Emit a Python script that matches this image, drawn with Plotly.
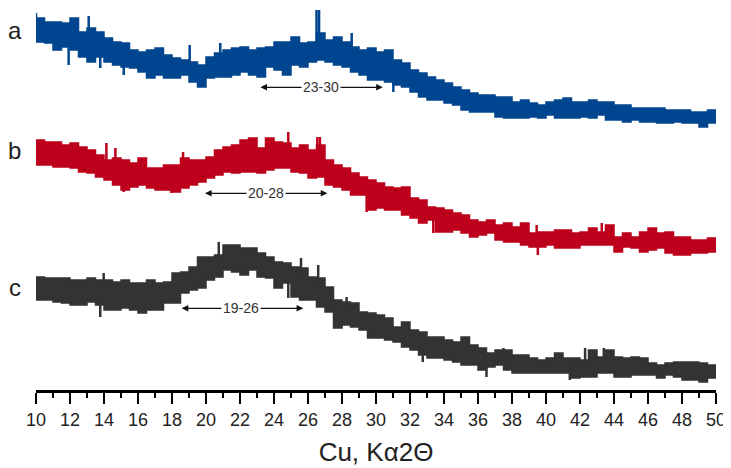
import plotly.graph_objects as go

# 2-theta grid (degrees), 0.5 step from 10 to 50
two_theta = [10 + 0.5 * i for i in range(81)]

# Sample a (blue): upper and lower envelope of the noisy trace (arb. intensity units)
a_upper = [372, 368, 368, 367, 372, 358, 362, 358, 352, 348,
           347, 340, 338, 340, 342, 335, 332, 330, 328, 325,
           333, 337, 340, 342, 343, 340, 342, 343, 348, 348,
           353, 347, 348, 357, 350, 353, 348, 343, 340, 342,
           338, 340, 330, 327, 320, 317, 313, 310, 307, 303,
           300, 297, 295, 295, 293, 293, 288, 290, 287, 285,
           288, 290, 292, 288, 288, 290, 288, 288, 285, 285,
           282, 282, 282, 282, 280, 280, 280, 278, 278, 280,
           277]
a_lower = [348, 347, 340, 343, 340, 333, 328, 333, 328, 325,
           323, 322, 318, 312, 315, 312, 312, 315, 308, 303,
           312, 313, 313, 315, 318, 315, 313, 323, 320, 315,
           325, 323, 328, 330, 328, 325, 323, 318, 315, 310,
           310, 308, 305, 303, 298, 293, 290, 290, 287, 285,
           280, 278, 278, 278, 273, 272, 272, 272, 273, 272,
           275, 272, 272, 272, 273, 272, 275, 270, 270, 268,
           270, 268, 268, 267, 267, 268, 267, 267, 263, 267,
           267]

# Sample b (red)
b_upper = [250, 248, 248, 245, 247, 243, 240, 235, 230, 232,
           230, 227, 232, 222, 222, 225, 225, 232, 230, 230,
           233, 240, 243, 245, 250, 252, 242, 252, 248, 247,
           242, 245, 240, 245, 230, 225, 222, 217, 213, 210,
           207, 203, 202, 203, 192, 190, 183, 182, 180, 177,
           175, 170, 168, 170, 165, 167, 163, 167, 157, 158,
           158, 160, 160, 157, 158, 162, 158, 165, 153, 157,
           153, 158, 162, 157, 158, 153, 153, 150, 150, 152,
           150]
b_lower = [225, 225, 223, 223, 222, 218, 217, 213, 210, 205,
           200, 203, 205, 202, 200, 200, 198, 202, 205, 208,
           212, 215, 218, 217, 218, 218, 217, 220, 222, 222,
           218, 217, 212, 213, 205, 203, 200, 195, 195, 180,
           182, 180, 180, 175, 172, 167, 170, 158, 158, 160,
           157, 153, 155, 157, 150, 148, 148, 145, 143, 143,
           145, 142, 142, 142, 145, 145, 145, 145, 138, 143,
           142, 138, 140, 142, 137, 135, 135, 137, 137, 138,
           138]

# Sample c (dark grey)
c_upper = [113, 112, 112, 112, 110, 110, 112, 110, 110, 108,
           110, 107, 107, 110, 107, 108, 117, 118, 123, 133,
           133, 135, 145, 145, 142, 142, 137, 133, 128, 127,
           123, 122, 113, 112, 103, 90, 88, 87, 78, 77,
           75, 72, 63, 68, 60, 58, 53, 53, 50, 48,
           53, 45, 42, 37, 40, 40, 35, 35, 32, 30,
           32, 37, 32, 32, 30, 40, 33, 40, 33, 32,
           33, 32, 27, 25, 27, 28, 28, 28, 27, 25,
           22]
c_lower = [90, 90, 88, 87, 85, 85, 88, 85, 80, 80,
           82, 80, 77, 80, 80, 87, 87, 97, 100, 102,
           110, 113, 120, 118, 115, 120, 113, 112, 102, 107,
           93, 90, 90, 83, 78, 62, 65, 63, 60, 52,
           52, 50, 48, 43, 40, 35, 32, 32, 30, 28,
           25, 25, 20, 23, 25, 20, 17, 17, 17, 17,
           17, 17, 17, 12, 13, 13, 17, 17, 13, 13,
           15, 15, 15, 12, 15, 13, 10, 10, 8, 12,
           13]

# Isolated spikes: position, base intensity, tip intensity
a_spike_x = [10.0, 11.92, 13.1, 13.78, 15.16, 19.04, 20.84, 26.5, 26.65, 28.57, 31.02]
a_spike_from = [348, 345, 355, 340, 330, 325, 320, 330, 330, 330, 320]
a_spike_to = [377, 325, 374, 322, 315, 345, 347, 380, 380, 357, 298]

b_spike_x = [14.14, 14.67, 15.16, 17.96, 18.65, 24.84, 26.55, 26.7, 29.45, 33.37, 39.45, 39.52, 43.28]
b_spike_from = [225, 225, 215, 210, 220, 230, 225, 225, 195, 170, 150, 150, 155]
b_spike_to = [247, 242, 198, 197, 238, 258, 253, 253, 178, 157, 165, 135, 167]

c_spike_x = [13.78, 13.98, 20.75, 24.84, 25.59, 26.6, 28.27, 32.75, 36.5, 37.5, 41.4, 42.3, 43.4]
c_spike_from = [95, 100, 130, 110, 110, 105, 80, 40, 30, 35, 25, 30, 30]
c_spike_to = [73, 117, 148, 92, 132, 125, 93, 28, 13, 42, 10, 42, 42]

sample_labels = ["a", "b", "c"]
label_levels = [360, 240, 103]
colors = ["#00458f", "#bd001b", "#333335"]

# Range annotations: (start, end, text position, level, text)
range_start = [23.2, 19.94, 18.57]
range_end = [30.4, 27.14, 25.72]
range_text_x = [26.74, 23.5, 22.06]
range_level = [302.7, 196.7, 81.7]
range_text = ["23-30", "20-28", "19-26"]

x_ticks = list(range(10, 51, 2))

fig = go.Figure()

series = [
    (a_upper, a_lower, a_spike_x, a_spike_from, a_spike_to),
    (b_upper, b_lower, b_spike_x, b_spike_from, b_spike_to),
    (c_upper, c_lower, c_spike_x, c_spike_from, c_spike_to),
]

for (up, lo, sx, sf, st), col in zip(series, colors):
    fig.add_trace(go.Scatter(x=two_theta, y=up, mode="lines",
                             line=dict(color=col, width=1.5, shape="hv"),
                             hoverinfo="skip", showlegend=False))
    fig.add_trace(go.Scatter(x=two_theta, y=lo, mode="lines", fill="tonexty",
                             fillcolor=col,
                             line=dict(color=col, width=1.5, shape="hv"),
                             hoverinfo="skip", showlegend=False))
    xs, ys = [], []
    for x, f, t in zip(sx, sf, st):
        xs += [x, x, None]
        ys += [f, t, None]
    fig.add_trace(go.Scatter(x=xs, y=ys, mode="lines",
                             line=dict(color=col, width=2.5),
                             hoverinfo="skip", showlegend=False))

annotations = []
for lab, lvl in zip(sample_labels, label_levels):
    annotations.append(dict(x=-0.031, y=lvl, xref="paper", yref="y", text=lab,
                            showarrow=False, xanchor="center",
                            font=dict(family="Liberation Sans, Arial, sans-serif",
                                      size=24, color="#222222")))

for s, e, tx, lvl, txt in zip(range_start, range_end, range_text_x, range_level, range_text):
    for tip in (s, e):
        annotations.append(dict(x=tip, y=lvl, ax=tx, ay=lvl, xref="x", yref="y",
                                axref="x", ayref="y", text="", showarrow=True,
                                arrowhead=2, arrowsize=1.1, arrowwidth=1.2,
                                arrowcolor="#111111"))
    annotations.append(dict(x=tx, y=lvl, xref="x", yref="y", text=txt,
                            showarrow=False, bgcolor="white", borderpad=1,
                            font=dict(family="Liberation Sans, Arial, sans-serif",
                                      size=14, color="#333333")))

fig.update_layout(
    width=731, height=468,
    margin=dict(l=28, r=23, t=0, b=86, autoexpand=False),
    plot_bgcolor="white", paper_bgcolor="white",
    annotations=annotations,
    xaxis=dict(
        range=[10, 50], showgrid=False, zeroline=False, automargin=False,
        showline=True, linecolor="black", linewidth=3,
        tickmode="array", tickvals=x_ticks,
        ticks="outside", ticklen=11, tickwidth=1.5, tickcolor="black",
        minor=dict(dtick=1, tick0=10, ticks="outside", ticklen=5,
                   tickwidth=1.5, tickcolor="black", showgrid=False),
        tickfont=dict(family="Liberation Sans, Arial, sans-serif", size=18, color="#222222"),
        title=dict(text="Cu, Kα2Θ", standoff=15,
                   font=dict(family="Liberation Sans, Arial, sans-serif", size=26, color="#222222")),
    ),
    yaxis=dict(range=[0, 382], visible=False, showgrid=False, zeroline=False),
)

fig.write_html("out.html")
